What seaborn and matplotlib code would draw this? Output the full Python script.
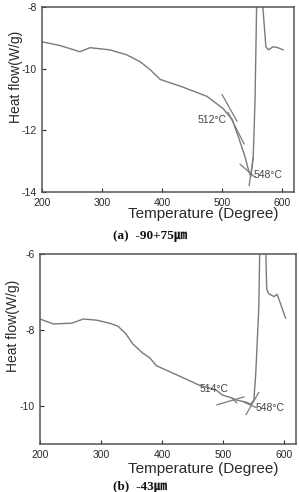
import numpy as np
import pandas as pd
import matplotlib
matplotlib.use("Agg")
import matplotlib.pyplot as plt
import seaborn as sns

# ---- data: panel (a) -90+75 um ----
temp_a = [200, 230, 263, 280, 313, 341, 363, 380, 397, 435, 475, 502, 517, 527, 538, 545, 548,
          552, 555, 558, 566, 568, 573, 577, 585, 593, 602]
heat_a = [-9.13, -9.25, -9.45, -9.32, -9.39, -9.55, -9.77, -10.03, -10.35, -10.6, -10.9, -11.3,
          -11.65, -12.2, -12.84, -13.35, -13.5, -12.84, -11.0, -7.5, -7.5, -8.0, -9.29, -9.39,
          -9.29, -9.32, -9.39]
tan_a = [  # (T1, H1, T2, H2)
    (500, -10.84, 525, -11.71),
    (510, -11.42, 537, -12.45),
    (530, -13.10, 555, -13.52),
    (545, -13.80, 552, -12.90),
]
lab_a = [("512°C", 512, -11.65), ("548°C", 548, -13.45)]

# ---- data: panel (b) -43 um ----
temp_b = [200, 222, 252, 271, 293, 314, 328, 341, 352, 368, 380, 391, 434, 461, 489, 499, 515,
          522, 538, 546, 551, 554, 559, 561, 569, 570.6, 572, 575, 584, 589, 595, 603]
heat_b = [-7.71, -7.84, -7.82, -7.71, -7.74, -7.82, -7.9, -8.1, -8.36, -8.6, -8.73, -8.94, -9.25,
          -9.45, -9.58, -9.71, -9.79, -9.84, -9.9, -9.95, -9.84, -9.15, -7.43, -5.5, -5.5, -6.0,
          -6.91, -7.04, -7.12, -7.06, -7.32, -7.69]
tan_b = [
    (490, -9.97, 535, -9.76),
    (515, -9.79, 523, -9.92),
    (535, -9.90, 556, -10.05),
    (538, -10.23, 559, -9.64),
]
lab_b = [("514°C", 514, -9.55), ("548°C", 549, -10.05)]

sns.set_theme(style="white")
plt.rcParams['font.family'] = ['Liberation Sans', 'DejaVu Sans']

fig = plt.figure(figsize=(2.99, 4.92), dpi=100)
ax_a = fig.add_axes([0.1405, 0.6098, 0.843, 0.376])
ax_b = fig.add_axes([0.1338, 0.0976, 0.856, 0.386])

line_col = "#7a7a7a"
spine_col = "#555555"
txt_col = "#2a2a2a"


def draw(ax, temps, heats, tans, labels, ylim, yticks, caption, cap_y, lab_y):
    df = pd.DataFrame({"T": temps, "H": heats})
    sns.lineplot(data=df, x="T", y="H", ax=ax, color=line_col, lw=1.0, sort=False,
                 estimator=None)
    for i, (t1, h1, t2, h2) in enumerate(tans):
        seg = pd.DataFrame({"T": [t1, t2], "H": [h1, h2]})
        sns.lineplot(data=seg, x="T", y="H", ax=ax, color=line_col, lw=0.9,
                     estimator=None, sort=False)
    for j, (txt, t, h) in enumerate(labels):
        if j == 0:
            ax.text(t - 5, h, txt, fontsize=7.5, color="#444444", ha="right", va="center")
        else:
            ax.text(t + 4, h, txt, fontsize=7.5, color="#444444", ha="left", va="center")
    ax.set_xlim(200, 620)
    ax.set_ylim(*ylim)
    ax.set_xticks([200, 300, 400, 500, 600])
    ax.set_yticks(yticks)
    ax.set_yticklabels([f"{v:g}" for v in yticks])
    ax.tick_params(direction="in", length=3, width=0.8, labelsize=7.5,
                   colors=txt_col, left=True, bottom=True, pad=4)
    for s in ax.spines.values():
        s.set_color(spine_col)
        s.set_linewidth(1.1)
    ax.set_xlabel("")
    ax.set_ylabel("Heat flow(W/g)", fontsize=10, color=txt_col)
    ax.yaxis.set_label_coords(-0.077, 0.62)
    fig.text(0.68, lab_y, "Temperature (Degree)", fontsize=11, color=txt_col,
             ha="center", va="center")
    fig.text(0.378, cap_y, caption, fontsize=9.5, fontweight="bold", color="#111111",
             ha="left", va="center", family=["Liberation Serif", "Noto Sans CJK KR"])


draw(ax_a, temp_a, heat_a, tan_a, lab_a, (-14, -8), [-14, -12, -10, -8],
     "(a)  -90+75\u339b", 1 - 236 / 492, 1 - 214 / 492)
draw(ax_b, temp_b, heat_b, tan_b, lab_b, (-11, -6), [-10, -8, -6],
     "(b)  -43\u339b", 1 - 487 / 492, 1 - 469 / 492)

fig.savefig("out.png", dpi=100)
